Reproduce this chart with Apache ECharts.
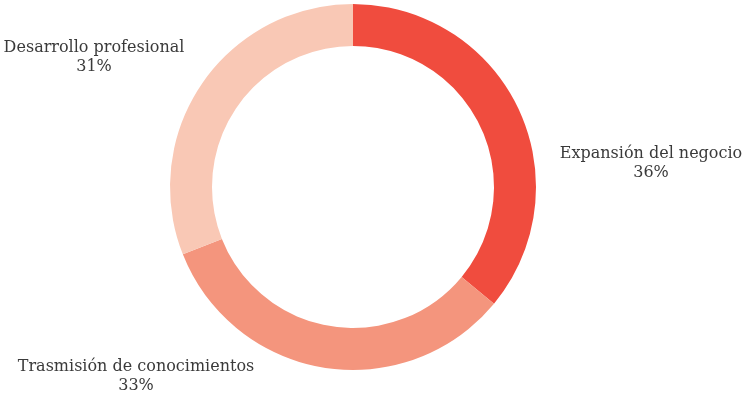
<!DOCTYPE html>
<html>
<head>
<meta charset="utf-8">
<script src="https://cdn.jsdelivr.net/npm/echarts@6/dist/echarts.min.js"></script>
<style>
  html, body { margin: 0; padding: 0; background: #fff; }
  #chart { width: 742px; height: 395px; }
</style>
</head>
<body>
<div id="chart"></div>
<script>
// Share of respondents by motivation
const categories = ['Expansión del negocio', 'Trasmisión de conocimientos', 'Desarrollo profesional'];
const values = [36, 33, 31];
const colors = ['#F04C3E', '#F4957D', '#F9C8B5'];

// Label anchor points (pixel centres) for each slice's caption
const labelSpots = [[651, 163], [136, 376], [94, 57]];

const chart = echarts.init(document.getElementById('chart'));
chart.setOption({
  animation: false,
  series: [{
    type: 'pie',
    center: [353, 187],
    radius: [141, 183],
    startAngle: 90,
    clockwise: true,
    avoidLabelOverlap: false,
    itemStyle: { borderColor: '#fff', borderWidth: 0 },
    label: {
      show: true,
      position: 'outside',
      formatter: p => p.name + '\n' + p.value + '%',
      fontFamily: 'DejaVu Serif',
      fontSize: 16,
      lineHeight: 19,
      color: '#3a3a3a',
      align: 'center'
    },
    labelLine: { show: false },
    labelLayout: p => ({
      x: labelSpots[p.dataIndex][0],
      y: labelSpots[p.dataIndex][1],
      align: 'center',
      verticalAlign: 'middle'
    }),
    data: categories.map((c, i) => ({ name: c, value: values[i], itemStyle: { color: colors[i] } }))
  }]
});
</script>
</body>
</html>
